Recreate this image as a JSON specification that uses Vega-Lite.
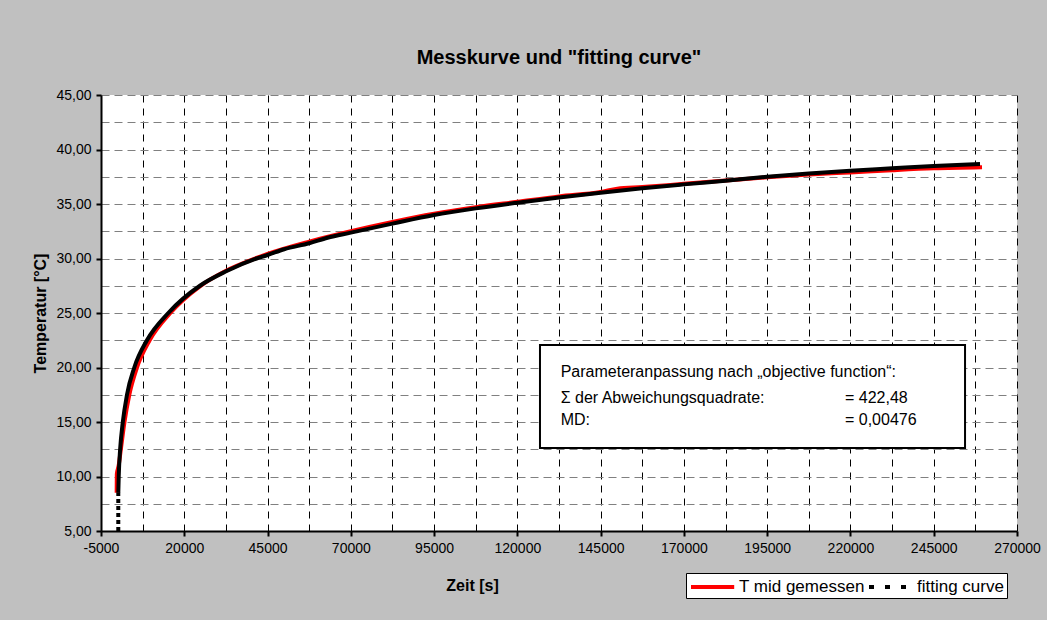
{
  "$schema": "https://vega.github.io/schema/vega-lite/v6.json",
  "width": 916,
  "height": 436,
  "autosize": {"type": "none"},
  "padding": {"left": 101, "top": 95, "right": 30, "bottom": 89},
  "background": "#C0C0C0",
  "config": {"font": "Liberation Sans", "view": {"fill": "white", "stroke": null}},
  "title": {"text": "Messkurve und \"fitting curve\"", "font": "Liberation Sans", "fontSize": 20, "fontWeight": "bold", "color": "black", "anchor": "middle", "baseline": "alphabetic", "offset": 4},
  "datasets": {
    "measured": [
      {"t": -300, "T": 8.5}, {"t": -250, "T": 10.2}, {"t": 300, "T": 11.0}, {"t": 1000, "T": 12.6},
      {"t": 2050, "T": 15.0}, {"t": 3500, "T": 17.5}, {"t": 5800, "T": 20.0}, {"t": 9600, "T": 22.5},
      {"t": 15800, "T": 25.0}, {"t": 24700, "T": 27.45}, {"t": 32400, "T": 28.85}, {"t": 41700, "T": 30.05},
      {"t": 45000, "T": 30.42}, {"t": 57500, "T": 31.55}, {"t": 70000, "T": 32.5}, {"t": 82500, "T": 33.35},
      {"t": 95000, "T": 34.1}, {"t": 107500, "T": 34.7}, {"t": 120000, "T": 35.2}, {"t": 132500, "T": 35.7},
      {"t": 145000, "T": 36.1}, {"t": 150000, "T": 36.4}, {"t": 157500, "T": 36.55}, {"t": 170000, "T": 36.85},
      {"t": 182500, "T": 37.15}, {"t": 195000, "T": 37.45}, {"t": 207500, "T": 37.7}, {"t": 220000, "T": 37.9},
      {"t": 232500, "T": 38.1}, {"t": 245000, "T": 38.27}, {"t": 259500, "T": 38.37}
    ],
    "fitted": [
      {"t": 190, "T": 5.0}, {"t": 190, "T": 8.5}, {"t": 320, "T": 10.0}, {"t": 750, "T": 12.5},
      {"t": 1550, "T": 15.0}, {"t": 2800, "T": 17.5}, {"t": 5000, "T": 20.0}, {"t": 8800, "T": 22.5},
      {"t": 15200, "T": 25.0}, {"t": 24700, "T": 27.5}, {"t": 32400, "T": 28.8}, {"t": 41700, "T": 30.0},
      {"t": 45000, "T": 30.32}, {"t": 50000, "T": 30.85}, {"t": 57500, "T": 31.4}, {"t": 63000, "T": 31.9},
      {"t": 70000, "T": 32.37}, {"t": 82500, "T": 33.2}, {"t": 95000, "T": 33.99}, {"t": 107500, "T": 34.6},
      {"t": 120000, "T": 35.12}, {"t": 132500, "T": 35.6}, {"t": 145000, "T": 36.04}, {"t": 157500, "T": 36.44},
      {"t": 170000, "T": 36.8}, {"t": 182500, "T": 37.14}, {"t": 195000, "T": 37.5}, {"t": 207500, "T": 37.8},
      {"t": 220000, "T": 38.05}, {"t": 232500, "T": 38.27}, {"t": 245000, "T": 38.49}, {"t": 258900, "T": 38.67}
    ],
    "box": [{"t": 126790, "t2": 254400, "T": 12.61, "T2": 22.06}],
    "notes": [
      {"t": 133000, "T": 19.59, "label": "Parameteranpassung nach „objective function“:"},
      {"t": 133000, "T": 17.22, "label": "Σ der Abweichungsquadrate:"},
      {"t": 218350, "T": 17.22, "label": "= 422,48"},
      {"t": 133000, "T": 15.14, "label": "MD:"},
      {"t": 218350, "T": 15.14, "label": "= 0,00476"}
    ]
  },
  "encoding": {
    "x": {
      "field": "t", "type": "quantitative",
      "scale": {"domain": [-5000, 270000], "nice": false, "zero": false},
      "axis": {
        "values": [-5000, 7500, 20000, 32500, 45000, 57500, 70000, 82500, 95000, 107500, 120000, 132500, 145000, 157500, 170000, 182500, 195000, 207500, 220000, 232500, 245000, 257500, 270000],
        "labelExpr": "(datum.value + 5000) % 25000 == 0 ? '' + datum.value : ''",
        "labelFont": "Liberation Sans", "labelFontSize": 14, "labelColor": "black", "labelPadding": 5,
        "labelFlush": false, "labelOverlap": false,
        "tickSize": 5, "tickWidth": 2, "tickColor": "black",
        "tickOpacity": {"condition": {"test": "(datum.value + 5000) % 25000 == 0", "value": 1}, "value": 0},
        "domainColor": "black", "domainWidth": 2,
        "grid": true, "gridColor": "black", "gridDash": [7, 6], "gridWidth": 1,
        "title": "Zeit [s]", "titleFont": "Liberation Sans", "titleFontSize": 16, "titleFontWeight": "bold", "titleColor": "black",
        "titleX": 371, "titleY": 54, "titleAlign": "center", "titleBaseline": "middle"
      }
    },
    "y": {
      "field": "T", "type": "quantitative",
      "scale": {"domain": [5, 45], "nice": false, "zero": false},
      "axis": {
        "values": [5, 7.5, 10, 12.5, 15, 17.5, 20, 22.5, 25, 27.5, 30, 32.5, 35, 37.5, 40, 42.5, 45],
        "labelExpr": "datum.value % 5 == 0 ? replace(format(datum.value, '.2f'), '.', ',') : ''",
        "labelFont": "Liberation Sans", "labelFontSize": 14, "labelColor": "black", "labelPadding": 5,
        "labelFlush": false, "labelOverlap": false,
        "tickSize": 5, "tickWidth": 2, "tickColor": "black",
        "tickOpacity": {"condition": {"test": "datum.value % 5 == 0", "value": 1}, "value": 0},
        "domainColor": "black", "domainWidth": 2,
        "grid": true, "gridColor": "#808080", "gridDash": [8, 5], "gridWidth": 1,
        "title": "Temperatur [°C]", "titleFont": "Liberation Sans", "titleFontSize": 16, "titleFontWeight": "bold", "titleColor": "black",
        "titleX": -61, "titleY": 218, "titleAngle": 270, "titleAlign": "center", "titleBaseline": "middle"
      }
    }
  },
  "layer": [
    {
      "data": {"name": "box"},
      "mark": {"type": "rect", "fill": "white", "stroke": "black", "strokeWidth": 2},
      "encoding": {"x2": {"field": "t2"}, "y2": {"field": "T2"}}
    },
    {
      "data": {"name": "notes"},
      "mark": {"type": "text", "align": "left", "baseline": "middle", "font": "Liberation Sans", "fontSize": 16, "color": "black"},
      "encoding": {"text": {"field": "label"}}
    },
    {
      "data": {"name": "measured"},
      "mark": {"type": "line", "strokeWidth": 4, "interpolate": "monotone"},
      "encoding": {
        "color": {
          "datum": "T mid gemessen",
          "scale": {"domain": ["T mid gemessen", "fitting curve"], "range": ["#FF0000", "#000000"]},
          "legend": {
            "orient": "none", "legendX": 585, "legendY": 478, "direction": "horizontal", "title": null,
            "fillColor": "white", "strokeColor": "black", "padding": 3,
            "symbolType": "M-1,0L3.8,0", "symbolSize": 324, "symbolStrokeWidth": 4,
            "labelFont": "Liberation Sans", "labelFontSize": 17, "labelColor": "black", "labelOffset": 28, "labelLimit": 300,
            "columnPadding": -4,
            "encode": {"symbols": {"update": {"strokeDash": {"signal": "datum.label === 'fitting curve' ? [5, 11] : [1, 0]"}}}}
          }
        }
      }
    },
    {
      "data": {"name": "fitted"},
      "transform": [{"filter": "datum.T >= 8.5"}],
      "mark": {"type": "line", "strokeWidth": 4, "interpolate": "monotone"},
      "encoding": {"color": {"datum": "fitting curve"}}
    },
    {
      "data": {"name": "fitted"},
      "transform": [{"filter": "datum.T <= 8.5"}],
      "mark": {"type": "line", "strokeWidth": 4, "strokeDash": [4, 3]},
      "encoding": {"color": {"datum": "fitting curve"}}
    }
  ]
}
